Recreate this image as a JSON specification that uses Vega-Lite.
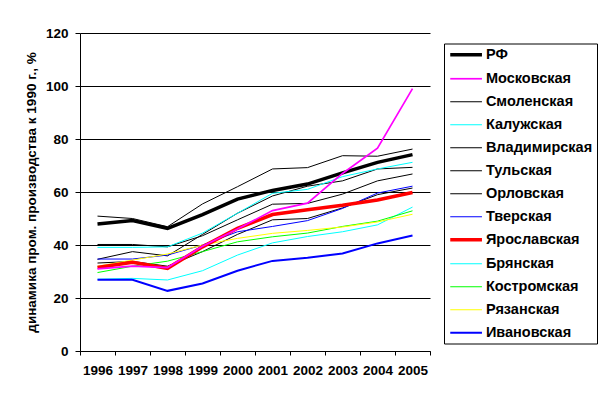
{
  "$schema": "https://vega.github.io/schema/vega-lite/v6.json",
  "width": 350,
  "height": 318,
  "autosize": {"type": "none"},
  "padding": {"left": 80, "top": 33, "right": 182, "bottom": 51},
  "background": "white",
  "config": {
    "view": {"stroke": null},
    "axis": {"labelFont": "Liberation Sans", "labelFontWeight": "bold", "labelFontSize": 13.5, "labelColor": "black", "domainColor": "black", "tickColor": "black", "titleFont": "Liberation Sans", "titleColor": "black"},
    "legend": {"labelFont": "Liberation Sans", "labelFontWeight": "bold", "labelFontSize": 14.5, "labelColor": "black"}
  },
  "datasets": {
    "d": [
      {"region": "Смоленская", "year": "1996", "value": 50.9}, {"region": "Смоленская", "year": "1997", "value": 50}, {"region": "Смоленская", "year": "1998", "value": 46.9}, {"region": "Смоленская", "year": "1999", "value": 55.5}, {"region": "Смоленская", "year": "2000", "value": 62}, {"region": "Смоленская", "year": "2001", "value": 68.7}, {"region": "Смоленская", "year": "2002", "value": 69.2}, {"region": "Смоленская", "year": "2003", "value": 73.7}, {"region": "Смоленская", "year": "2004", "value": 73.5}, {"region": "Смоленская", "year": "2005", "value": 76.2},
      {"region": "Владимирская", "year": "1996", "value": 34.6}, {"region": "Владимирская", "year": "1997", "value": 37.5}, {"region": "Владимирская", "year": "1998", "value": 35.9}, {"region": "Владимирская", "year": "1999", "value": 44}, {"region": "Владимирская", "year": "2000", "value": 52}, {"region": "Владимирская", "year": "2001", "value": 58.5}, {"region": "Владимирская", "year": "2002", "value": 62.2}, {"region": "Владимирская", "year": "2003", "value": 64.2}, {"region": "Владимирская", "year": "2004", "value": 68.7}, {"region": "Владимирская", "year": "2005", "value": 69.3},
      {"region": "Тульская", "year": "1996", "value": 40.2}, {"region": "Тульская", "year": "1997", "value": 40.2}, {"region": "Тульская", "year": "1998", "value": 39.3}, {"region": "Тульская", "year": "1999", "value": 43.5}, {"region": "Тульская", "year": "2000", "value": 49.5}, {"region": "Тульская", "year": "2001", "value": 55.4}, {"region": "Тульская", "year": "2002", "value": 55.7}, {"region": "Тульская", "year": "2003", "value": 59.2}, {"region": "Тульская", "year": "2004", "value": 64.2}, {"region": "Тульская", "year": "2005", "value": 66.8},
      {"region": "Орловская", "year": "1996", "value": 33.2}, {"region": "Орловская", "year": "1997", "value": 33.8}, {"region": "Орловская", "year": "1998", "value": 32}, {"region": "Орловская", "year": "1999", "value": 37.5}, {"region": "Орловская", "year": "2000", "value": 44}, {"region": "Орловская", "year": "2001", "value": 49.5}, {"region": "Орловская", "year": "2002", "value": 50}, {"region": "Орловская", "year": "2003", "value": 54}, {"region": "Орловская", "year": "2004", "value": 59}, {"region": "Орловская", "year": "2005", "value": 61.5},
      {"region": "Тверская", "year": "1996", "value": 34.7}, {"region": "Тверская", "year": "1997", "value": 34.7}, {"region": "Тверская", "year": "1998", "value": 36.2}, {"region": "Тверская", "year": "1999", "value": 40}, {"region": "Тверская", "year": "2000", "value": 45}, {"region": "Тверская", "year": "2001", "value": 47}, {"region": "Тверская", "year": "2002", "value": 49.2}, {"region": "Тверская", "year": "2003", "value": 53.8}, {"region": "Тверская", "year": "2004", "value": 59.6}, {"region": "Тверская", "year": "2005", "value": 62.2},
      {"region": "Калужская", "year": "1996", "value": 39.1}, {"region": "Калужская", "year": "1997", "value": 39.1}, {"region": "Калужская", "year": "1998", "value": 39.3}, {"region": "Калужская", "year": "1999", "value": 44.5}, {"region": "Калужская", "year": "2000", "value": 52}, {"region": "Калужская", "year": "2001", "value": 59.5}, {"region": "Калужская", "year": "2002", "value": 61}, {"region": "Калужская", "year": "2003", "value": 65.8}, {"region": "Калужская", "year": "2004", "value": 68.7}, {"region": "Калужская", "year": "2005", "value": 71.2},
      {"region": "Брянская", "year": "1996", "value": 27.1}, {"region": "Брянская", "year": "1997", "value": 27.4}, {"region": "Брянская", "year": "1998", "value": 26.8}, {"region": "Брянская", "year": "1999", "value": 30.3}, {"region": "Брянская", "year": "2000", "value": 36.2}, {"region": "Брянская", "year": "2001", "value": 40.8}, {"region": "Брянская", "year": "2002", "value": 43.2}, {"region": "Брянская", "year": "2003", "value": 45}, {"region": "Брянская", "year": "2004", "value": 47.6}, {"region": "Брянская", "year": "2005", "value": 54.3},
      {"region": "Костромская", "year": "1996", "value": 29.6}, {"region": "Костромская", "year": "1997", "value": 32}, {"region": "Костромская", "year": "1998", "value": 33.9}, {"region": "Костромская", "year": "1999", "value": 37.5}, {"region": "Костромская", "year": "2000", "value": 41.2}, {"region": "Костромская", "year": "2001", "value": 43.1}, {"region": "Костромская", "year": "2002", "value": 44.5}, {"region": "Костромская", "year": "2003", "value": 47}, {"region": "Костромская", "year": "2004", "value": 49}, {"region": "Костромская", "year": "2005", "value": 52.9},
      {"region": "Рязанская", "year": "1996", "value": 32}, {"region": "Рязанская", "year": "1997", "value": 34.3}, {"region": "Рязанская", "year": "1998", "value": 36.6}, {"region": "Рязанская", "year": "1999", "value": 40}, {"region": "Рязанская", "year": "2000", "value": 42.5}, {"region": "Рязанская", "year": "2001", "value": 44.4}, {"region": "Рязанская", "year": "2002", "value": 45.5}, {"region": "Рязанская", "year": "2003", "value": 46.8}, {"region": "Рязанская", "year": "2004", "value": 48.7}, {"region": "Рязанская", "year": "2005", "value": 51.6},
      {"region": "Ивановская", "year": "1996", "value": 26.9}, {"region": "Ивановская", "year": "1997", "value": 26.9}, {"region": "Ивановская", "year": "1998", "value": 22.7}, {"region": "Ивановская", "year": "1999", "value": 25.5}, {"region": "Ивановская", "year": "2000", "value": 30.3}, {"region": "Ивановская", "year": "2001", "value": 34}, {"region": "Ивановская", "year": "2002", "value": 35.2}, {"region": "Ивановская", "year": "2003", "value": 36.8}, {"region": "Ивановская", "year": "2004", "value": 40.6}, {"region": "Ивановская", "year": "2005", "value": 43.6},
      {"region": "Ярославская", "year": "1996", "value": 31.5}, {"region": "Ярославская", "year": "1997", "value": 33.5}, {"region": "Ярославская", "year": "1998", "value": 31.2}, {"region": "Ярославская", "year": "1999", "value": 39.3}, {"region": "Ярославская", "year": "2000", "value": 46.3}, {"region": "Ярославская", "year": "2001", "value": 51.5}, {"region": "Ярославская", "year": "2002", "value": 53.3}, {"region": "Ярославская", "year": "2003", "value": 55}, {"region": "Ярославская", "year": "2004", "value": 57}, {"region": "Ярославская", "year": "2005", "value": 59.8},
      {"region": "РФ", "year": "1996", "value": 47.9}, {"region": "РФ", "year": "1997", "value": 49.2}, {"region": "РФ", "year": "1998", "value": 46.3}, {"region": "РФ", "year": "1999", "value": 51.5}, {"region": "РФ", "year": "2000", "value": 57.3}, {"region": "РФ", "year": "2001", "value": 60.6}, {"region": "РФ", "year": "2002", "value": 63}, {"region": "РФ", "year": "2003", "value": 67.2}, {"region": "РФ", "year": "2004", "value": 71.2}, {"region": "РФ", "year": "2005", "value": 74.1},
      {"region": "Московская", "year": "1996", "value": 31}, {"region": "Московская", "year": "1997", "value": 32}, {"region": "Московская", "year": "1998", "value": 31.5}, {"region": "Московская", "year": "1999", "value": 39.5}, {"region": "Московская", "year": "2000", "value": 46}, {"region": "Московская", "year": "2001", "value": 53}, {"region": "Московская", "year": "2002", "value": 55.8}, {"region": "Московская", "year": "2003", "value": 67}, {"region": "Московская", "year": "2004", "value": 76.5}, {"region": "Московская", "year": "2005", "value": 99}
    ]
  },
  "data": {"name": "d"},
  "mark": {"type": "line", "strokeCap": "butt", "strokeJoin": "miter"},
  "encoding": {
    "x": {
      "field": "year", "type": "ordinal",
      "scale": {"type": "band", "paddingInner": 0, "paddingOuter": 0},
      "axis": {"title": null, "labelAngle": 0, "tickBand": "extent", "tickSize": 4, "labelPadding": 8, "domainWidth": 1, "grid": false}
    },
    "y": {
      "field": "value", "type": "quantitative",
      "scale": {"domain": [0, 120], "nice": false},
      "axis": {"values": [0, 20, 40, 60, 80, 100, 120], "grid": true, "gridColor": "black", "gridOpacity": 1, "gridWidth": 1, "tickSize": 5, "labelPadding": 7, "title": "динамика пром. производства к 1990 г., %", "titleFontWeight": "bold", "titleFontSize": 13.5, "titlePadding": 7}
    },
    "color": {
      "field": "region", "type": "nominal",
      "scale": {
        "domain": ["РФ", "Московская", "Смоленская", "Калужская", "Владимирская", "Тульская", "Орловская", "Тверская", "Ярославская", "Брянская", "Костромская", "Рязанская", "Ивановская"],
        "range": ["#000000", "#FF00FF", "#000000", "#00FFFF", "#000000", "#000000", "#000000", "#0000FF", "#FF0000", "#00FFFF", "#00FF00", "#FFFF00", "#0000FF"]
      },
      "legend": {"title": null, "orient": "none", "legendX": 364, "legendY": 10.5, "strokeColor": "black", "fillColor": "white", "padding": 4, "symbolType": "M-1,0H5.34", "symbolSize": 100, "labelOffset": 23.4, "rowPadding": 8}
    },
    "strokeWidth": {
      "field": "region", "type": "nominal",
      "scale": {
        "type": "ordinal",
        "domain": ["РФ", "Московская", "Смоленская", "Калужская", "Владимирская", "Тульская", "Орловская", "Тверская", "Ярославская", "Брянская", "Костромская", "Рязанская", "Ивановская"],
        "range": [3.5, 1.7, 1, 1, 1, 1, 1, 1, 3.5, 1, 1, 1, 2]
      },
      "legend": {"title": null, "orient": "none", "legendX": 364, "legendY": 10.5, "strokeColor": "black", "fillColor": "white", "padding": 4, "symbolType": "M-1,0H5.34", "symbolSize": 100, "labelOffset": 23.4, "rowPadding": 8}
    }
  }
}
